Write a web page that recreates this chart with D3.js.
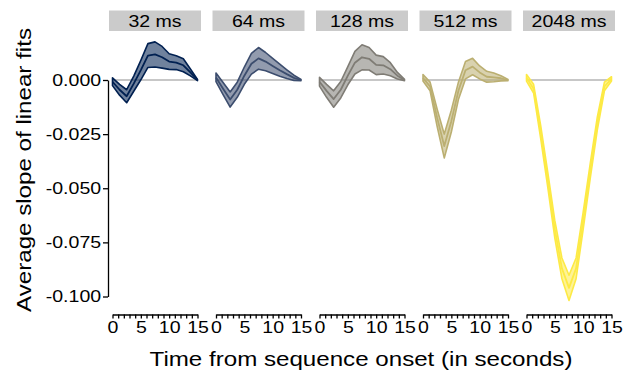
<!DOCTYPE html>
<html>
<head>
<meta charset="utf-8">
<script src="https://cdn.jsdelivr.net/npm/d3@7"></script>
<style>
  body { margin: 0; background: #fff; }
  svg text { font-family: "Liberation Sans", Arial, Helvetica, sans-serif; fill: #000; }
</style>
</head>
<body>
<div id="chart"></div>
<script>
// time points (s) and conditions
var timePoints = [0, 1.25, 2.5, 3.75, 5, 6.25, 7.5, 8.75, 10, 11.25, 12.5, 13.75, 15];
var conditions = ["32 ms", "64 ms", "128 ms", "512 ms", "2048 ms"];

// mean slope and standard error per condition
var mean32 = [-0.0008, -0.0045, -0.0075, -0.0017, 0.0046, 0.0113, 0.0118, 0.0105, 0.0085, 0.0080, 0.0068, 0.0035, 0.0000];
var se32   = [0.0018, 0.0025, 0.0030, 0.0035, 0.0045, 0.0055, 0.0058, 0.0050, 0.0036, 0.0032, 0.0030, 0.0016, 0.0003];
var mean64 = [0.0012, -0.0040, -0.0090, -0.0045, 0.0020, 0.0075, 0.0100, 0.0085, 0.0065, 0.0045, 0.0027, 0.0010, 0.0000];
var se64   = [0.0020, 0.0028, 0.0035, 0.0035, 0.0040, 0.0048, 0.0050, 0.0042, 0.0035, 0.0028, 0.0020, 0.0012, 0.0003];
var mean128 = [-0.0008, -0.0050, -0.0088, -0.0045, 0.0020, 0.0080, 0.0105, 0.0098, 0.0070, 0.0068, 0.0050, 0.0020, 0.0000];
var se128   = [0.0020, 0.0030, 0.0038, 0.0038, 0.0042, 0.0052, 0.0058, 0.0052, 0.0045, 0.0040, 0.0030, 0.0015, 0.0003];
var mean512 = [0.0010, -0.0030, -0.0175, -0.0305, -0.0190, -0.0050, 0.0045, 0.0062, 0.0035, 0.0015, 0.0012, 0.0008, 0.0000];
var se512   = [0.0015, 0.0020, 0.0040, 0.0055, 0.0050, 0.0040, 0.0040, 0.0038, 0.0030, 0.0025, 0.0020, 0.0012, 0.0003];
var mean2048 = [0.0010, -0.0040, -0.0240, -0.0460, -0.0690, -0.0870, -0.0960, -0.0870, -0.0650, -0.0420, -0.0200, -0.0030, 0.0005];
var se2048   = [0.0015, 0.0020, 0.0030, 0.0035, 0.0040, 0.0048, 0.0058, 0.0048, 0.0040, 0.0035, 0.0030, 0.0020, 0.0010];

var yTicks = [0, -0.025, -0.05, -0.075, -0.1];
var xTicks = d3.range(0, 16);

var means = [mean32, mean64, mean128, mean512, mean2048];
var ses = [se32, se64, se128, se512, se2048];

var W = 624, H = 375;
var panelLeft = 109, panelStep = 103.5, panelW = 92;
var SX = 1.15; // glyphs in the reference are a bit wider than Arial

var svg = d3.select("#chart").append("svg")
  .attr("width", W)
  .attr("height", H);

var y = d3.scaleLinear().domain([-0.1, 0]).range([296.5, 80]);

// y axis
var yAxis = svg.append("g")
  .attr("transform", "translate(108,0)")
  .call(d3.axisLeft(y).tickValues(yTicks).tickSize(5).tickSizeOuter(0).tickPadding(1)
    .tickFormat(function(d){ return d.toFixed(3); }));
yAxis.selectAll("path, line").attr("stroke", "#000").attr("stroke-width", 1.3);
yAxis.selectAll("text")
  .attr("font-size", 17)
  .attr("font-family", null)
  .attr("transform", "scale(" + SX + ",1)");

svg.append("text")
  .attr("transform", "translate(31,170) rotate(-90) scale(" + SX + ",1)")
  .attr("text-anchor", "middle")
  .attr("font-size", 21)
  .text("Average slope of linear fits");

svg.append("text")
  .attr("transform", "translate(361,366) scale(" + SX + ",1)")
  .attr("text-anchor", "middle")
  .attr("font-size", 21)
  .text("Time from sequence onset (in seconds)");

conditions.forEach(function(cond, i){
  var x0 = panelLeft + i * panelStep;
  var x = d3.scaleLinear().domain([0, 15]).range([x0 + 3.5, x0 + 88.5]);
  var color = d3.interpolateCividis(i / 4);
  var rows = timePoints.map(function(t, k){
    return {t: t, m: means[i][k], se: ses[i][k]};
  });

  var g = svg.append("g");

  // strip
  g.append("rect")
    .attr("x", x0).attr("y", 10.5)
    .attr("width", panelW).attr("height", 20.5)
    .attr("fill", "#cbcbcb");
  g.append("text")
    .attr("transform", "translate(" + (x0 + panelW / 2) + ",27) scale(" + SX + ",1)")
    .attr("text-anchor", "middle")
    .attr("font-size", 17)
    .text(cond);

  // zero line
  g.append("line")
    .attr("x1", x(0)).attr("x2", x(15))
    .attr("y1", y(0)).attr("y2", y(0))
    .attr("stroke", "#b5b5b5")
    .attr("stroke-width", 1.5);

  var area = d3.area()
    .x(function(d){ return x(d.t); })
    .y0(function(d){ return y(d.m - d.se); })
    .y1(function(d){ return y(d.m + d.se); });
  var line = d3.line()
    .x(function(d){ return x(d.t); })
    .y(function(d){ return y(d.m); });

  g.append("path")
    .attr("d", area(rows) + "Z")
    .attr("fill", color)
    .attr("fill-opacity", 0.56)
    .attr("stroke", color)
    .attr("stroke-width", 1.6)
    .attr("stroke-linejoin", "round");
  g.append("path")
    .attr("d", line(rows))
    .attr("fill", "none")
    .attr("stroke", color)
    .attr("stroke-width", 1.8)
    .attr("stroke-linejoin", "round");

  // x axis
  var xAxis = g.append("g")
    .attr("transform", "translate(0,314.5)")
    .call(d3.axisBottom(x).tickValues(xTicks).tickSize(4).tickSizeOuter(0).tickPadding(2)
      .tickFormat(function(d){ return d % 5 === 0 ? d : ""; }));
  xAxis.selectAll("path, line").attr("stroke", "#000").attr("stroke-width", 1.3);
  xAxis.selectAll("text")
    .attr("font-size", 17)
    .attr("font-family", null)
    .attr("transform", "scale(" + SX + ",1)");
});
</script>
</body>
</html>
